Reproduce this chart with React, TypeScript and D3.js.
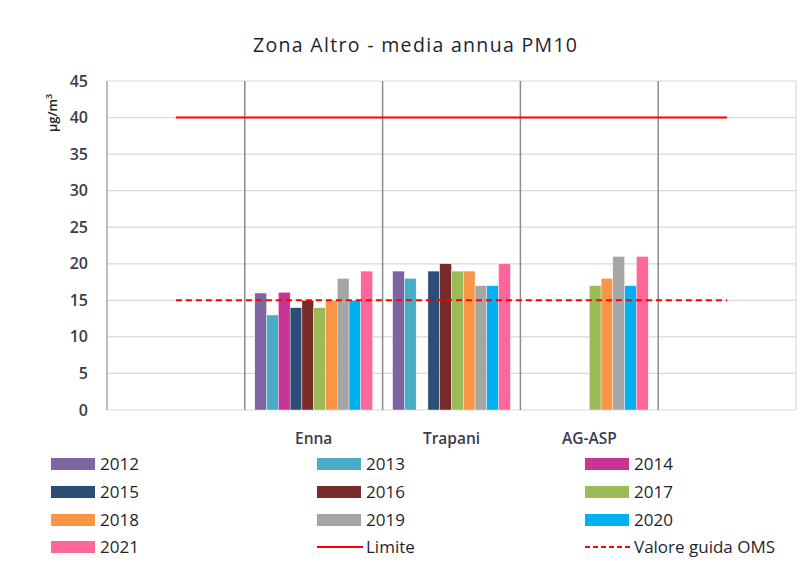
import React from "react";
import * as d3 from "d3";

const categories = ["", "Enna", "Trapani", "AG-ASP", " "];
const years = ["2012", "2013", "2014", "2015", "2016", "2017", "2018", "2019", "2020", "2021"];
const colors = ["#8064a2", "#4bacc6", "#c73494", "#2c4d75", "#772c2a", "#9bbb59", "#f79646", "#a5a5a5", "#00b0f0", "#ff6699"];

// values per station, one entry per year (null = no data)
const enna = [16, 13, 16.1, 14, 15, 14, 15, 18, 15, 19];
const trapani = [19, 18, null, 19, 20, 19, 19, 17, 17, 20];
const agAsp = [null, null, null, null, null, 17, 18, 21, 17, 21];

const limite = 40;
const valoreOMS = 15;
const yTicks = [0, 5, 10, 15, 20, 25, 30, 35, 40, 45];

const font = "'Open Sans', sans-serif";
const textColor = "#3b3b4f";

export default function App() {
  const width = 802;
  const height = 567;
  const margin = { top: 81, right: 6, bottom: 157, left: 107 };

  const stationValues: Record<string, (number | null)[]> = {
    Enna: enna,
    Trapani: trapani,
    "AG-ASP": agAsp,
  };

  const x = d3.scaleBand()
    .domain(categories)
    .range([margin.left, width - margin.right]);

  const inner = d3.scaleBand()
    .domain(years)
    .range([0, x.bandwidth()])
    .paddingOuter(0.85);

  const y = d3.scaleLinear()
    .domain([0, 45])
    .range([height - margin.bottom, margin.top]);

  const lineX0 = x(categories[0])! + x.bandwidth() / 2;
  const lineX1 = x(categories[categories.length - 1])! + x.bandwidth() / 2;

  const legendItems = [
    ...years.map((yr, i) => ({ label: yr, kind: "bar", color: colors[i] })),
    { label: "Limite", kind: "line", color: "#ff0000" },
    { label: "Valore guida OMS", kind: "dash", color: "#ff0000" },
  ];
  const legendCols = [51, 317, 585];
  const legendRows = [464, 492, 520, 547];

  return (
    <svg width={width} height={height} style={{ position: "absolute", left: 0, top: 0, background: "#fff" }}>
      <text x={415} y={52} textAnchor="middle" fontFamily={font} fontSize={19.5} fill="#1f1f2f" textLength={324} lengthAdjust="spacing">
        Zona Altro - media annua PM10
      </text>

      {/* horizontal gridlines */}
      {yTicks.map((t) => (
        <line key={"g" + t} x1={margin.left} x2={width - margin.right} y1={y(t)} y2={y(t)} stroke="#d9d9d9" strokeWidth={1.2} />
      ))}
      <line x1={width - margin.right} x2={width - margin.right} y1={y(45)} y2={y(0)} stroke="#d9d9d9" strokeWidth={1.2} />

      {/* category separators */}
      {categories.slice(1).map((c) => (
        <line key={"v" + c} x1={x(c)!} x2={x(c)!} y1={y(45)} y2={y(0)} stroke="#8c8c8c" strokeWidth={1.5} />
      ))}
      <line x1={margin.left} x2={margin.left} y1={y(45)} y2={y(0)} stroke="#a6a6a6" strokeWidth={1.5} />

      {/* bars */}
      {categories.map((c) => {
        const vals = stationValues[c];
        if (!vals) return null;
        return (
          <g key={"b" + c}>
            {vals.map((v, i) =>
              v == null ? null : (
                <rect
                  key={i}
                  x={x(c)! + inner(years[i])!}
                  y={y(v)}
                  width={inner.bandwidth()}
                  height={y(0) - y(v)}
                  fill={colors[i]}
                  stroke="#fff"
                  strokeWidth={0.4}
                />
              )
            )}
          </g>
        );
      })}

      {/* reference lines */}
      <line x1={lineX0} x2={lineX1} y1={y(limite)} y2={y(limite)} stroke="#ff0000" strokeWidth={2} />
      <line x1={lineX0} x2={lineX1} y1={y(valoreOMS)} y2={y(valoreOMS)} stroke="#ff0000" strokeWidth={2} strokeDasharray="6,4" />

      {/* y axis labels */}
      {yTicks.map((t) => (
        <text key={"t" + t} x={88} y={y(t)} dy="0.35em" textAnchor="end" fontFamily={font} fontSize={16} fontWeight={600} fill={textColor}>
          {t}
        </text>
      ))}
      <text transform={`translate(57,113) rotate(-90)`} textAnchor="middle" fontFamily={font} fontSize={13} fontWeight={600} fill="#222">
        µg/m<tspan dy="-5" fontSize={9}>3</tspan>
      </text>

      {/* category labels */}
      {categories.map((c) => (
        <text key={"c" + c} x={x(c)! + x.bandwidth() / 2} y={439} dy="0.35em" textAnchor="middle" fontFamily={font} fontSize={15.5} fontWeight={600} fill={textColor}>
          {c.trim()}
        </text>
      ))}

      {/* legend */}
      {legendItems.map((it, i) => {
        const lx = legendCols[i % 3];
        const ly = legendRows[Math.floor(i / 3)];
        return (
          <g key={"l" + it.label}>
            {it.kind === "bar" && <rect x={lx} y={ly - 6} width={44} height={12} fill={it.color} />}
            {it.kind === "line" && <line x1={lx} x2={lx + 46} y1={ly} y2={ly} stroke={it.color} strokeWidth={2} />}
            {it.kind === "dash" && <line x1={lx} x2={lx + 46} y1={ly} y2={ly} stroke={it.color} strokeWidth={2} strokeDasharray="5,3" />}
            <text x={lx + 49} y={ly} dy="0.35em" fontFamily={font} fontSize={17} fill="#1f1f2f">
              {it.label}
            </text>
          </g>
        );
      })}
    </svg>
  );
}
